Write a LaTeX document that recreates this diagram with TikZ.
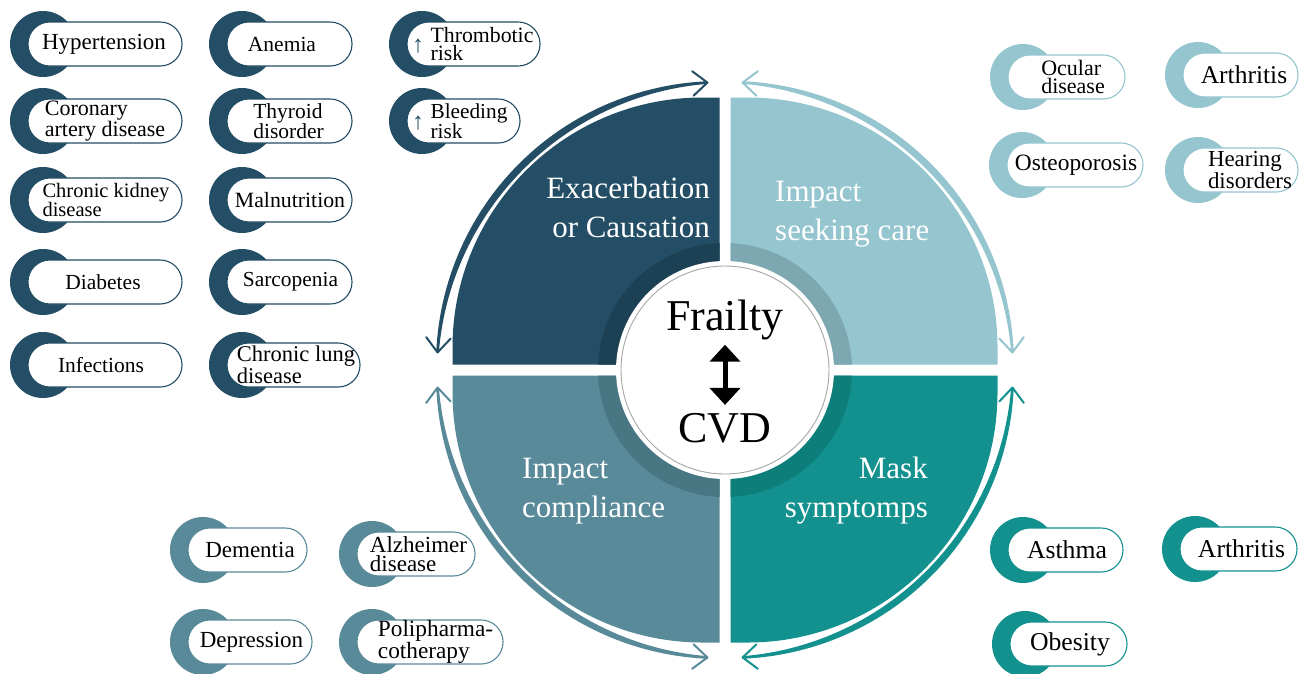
\documentclass[tikz,border=0pt]{standalone}
\usepackage{fontspec}
\setmainfont{Liberation Serif}
\usetikzlibrary{arrows.meta,calc}
\definecolor{c1}{HTML}{234E65}
\definecolor{c1b}{HTML}{1C4154}
\definecolor{c2}{HTML}{95C5CF}
\definecolor{c2b}{HTML}{7DA8B1}
\definecolor{c3}{HTML}{588A99}
\definecolor{c3b}{HTML}{497683}
\definecolor{c4}{HTML}{13918F}
\definecolor{c4b}{HTML}{0E7E7B}
\tikzset{
  pillbox/.style={rectangle, rounded corners=21.8pt, fill=white, line width=1.1pt, minimum height=44pt, inner sep=0pt},
  pilltext/.style={inner sep=0pt, align=left, text=black},
  quadtext/.style={inner sep=0pt, text=white, font=\fontsize{31}{39}\selectfont},
  hubtext/.style={inner sep=0pt, text=black, font=\fontsize{44}{48}\selectfont},
  uptext/.style={inner sep=0pt, text=c1, font=\fontsize{24}{24}\selectfont},
}
\newcommand{\mypill}[8]{%
  \fill[#2] ({#3+15},#5) circle[radius=33];
  \node[pillbox, draw=#2, minimum width={(#4-#3)*1pt}] (#1) at ({(#3+#4)/2},#5) {};
  \node[pilltext, font={\fontsize{#6}{18.5}\selectfont}] (#1t) at (#7,#5) {#8};
}
\begin{document}
\begin{tikzpicture}[x=1pt,y=-1pt]
\useasboundingbox (0,0) rectangle (1303,673);
\fill[white] (0,0) rectangle (1303,673);

% ---- centre ----
\begin{scope}[shift={(725,370)}, yscale=-1]
  \foreach \r/\c/\cb in {0/c1/c1b, 90/c2/c2b, 180/c4/c4b, -90/c3/c3b} {
    \fill[fill=\c, rotate=\r] (-5.5,5.5) -- (-5.5,272.5) -- (-22.5,272.5) arc[start angle=90, end angle=180, radius=250] -- (-272.5,5.5) -- cycle;
    \begin{scope}
      \clip[rotate=\r] (-5.5,5.5) -- (-5.5,272.5) -- (-22.5,272.5) arc[start angle=90, end angle=180, radius=250] -- (-272.5,5.5) -- cycle;
      \fill[fill=\cb] (0,0) circle[radius=127];
    \end{scope}
  }
  \node[circle, fill=white, minimum size=218pt, inner sep=0pt] (hub) at (0,0) {};
  \node[circle, draw=gray!70, line width=0.9pt, minimum size=208pt, inner sep=0pt] (hubring) at (0,0) {};
  \node[hubtext] (fr) at (0,50.5) {Frailty};
  \node[hubtext] (cvd) at (0,-58) {CVD};
  \draw[line width=5pt, shorten <=5pt, shorten >=8pt, {Triangle[length=17pt,width=30pt]}-{Triangle[length=17pt,width=30pt]}] (fr) -- (cvd);

  % ---- circular arrows ----
  \foreach \a/\c [evaluate=\a as \s using \a+3.5, evaluate=\a as \e using \a+86.5, evaluate=\a as \m using \a+45] in {90/c1, 0/c2, 180/c3, 270/c4} {
    \fill[fill=\c] plot[domain=\s:\e, samples=60] ({(289+2.5*cos(2*(\x-\m)))*cos(\x)}, {(289+2.5*cos(2*(\x-\m)))*sin(\x)})
      -- plot[domain=\e:\s, samples=60] ({(287-2.5*cos(2*(\x-\m)))*cos(\x)}, {(287-2.5*cos(2*(\x-\m)))*sin(\x)}) -- cycle;
    \draw[draw=\c, line width=2pt, line cap=round, line join=round] ($(\s:288)+(\s+130:19)$) -- (\s:288) -- ($(\s:288)+(\s+50:19)$);
    \draw[draw=\c, line width=2pt, line cap=round, line join=round] ($(\e:288)+(\e-50:19)$) -- (\e:288) -- ($(\e:288)+(\e-130:19)$);
  }
\end{scope}

% ---- quadrant labels ----
\node[quadtext, align=right, anchor=east] (q1) at (710,207) {Exacerbation\\or Causation};
\node[quadtext, align=left, anchor=west] (q2) at (775,214.5) {Impact\\seeking care};
\node[quadtext, align=left, anchor=west] (q3) at (522,491) {Impact\\compliance};
\node[quadtext, align=right, anchor=east] (q4) at (928,491) {Mask\\symptomps};

% ---- pills: dark ----
\mypill{hyp}{c1}{28}{182}{44}{23}{104}{Hypertension}
\mypill{cad}{c1}{28}{182}{121}{22}{105}{Coronary\\artery disease}
\mypill{ckd}{c1}{28}{182}{200}{20.5}{106}{Chronic kidney\\disease}
\mypill{dia}{c1}{28}{182}{282}{21.5}{103}{Diabetes}
\mypill{inf}{c1}{28}{182}{365}{21.5}{101}{Infections}
\mypill{ane}{c1}{227}{352}{44}{21.5}{282}{Anemia}
\mypill{thy}{c1}{227}{352}{121}{21.5}{288.5}{Thyroid\\disorder}
\mypill{mal}{c1}{227}{352}{200}{21.8}{290}{Malnutrition}
\mypill{sar}{c1}{227}{352}{282}{21.4}{290.5}{Sarcopenia}
\mypill{cld}{c1}{227}{360}{365}{22.5}{296}{Chronic lung\\disease}
\mypill{thr}{c1}{407}{540}{44}{21.8}{482}{Thrombotic\\risk}
\mypill{ble}{c1}{407}{520}{121}{21.3}{469}{Bleeding\\risk}
\node[uptext] (thrup) at (418,46) {↑};
\node[uptext] (bleup) at (418,123) {↑};

% ---- pills: light ----
\mypill{ocu}{c2}{1008}{1125}{77}{22}{1073}{Ocular\\disease}
\mypill{arta}{c2}{1183}{1298}{75}{25.5}{1244}{Arthritis}
\mypill{ost}{c2}{1007}{1143}{165}{23.4}{1076}{Osteoporosis}
\mypill{hea}{c2}{1183}{1298}{170}{22.9}{1250}{Hearing\\disorders}

% ---- pills: steel ----
\mypill{dem}{c3}{188}{307}{550}{23}{250}{Dementia}
\mypill{alz}{c3}{357}{475}{554}{23}{418.5}{Alzheimer\\disease}
\mypill{dep}{c3}{188}{312}{642}{23}{251.5}{Depression}
\mypill{pol}{c3}{357}{503}{642}{23.3}{435.5}{Polipharma-\\cotherapy}

% ---- pills: teal ----
\mypill{ast}{c4}{1008}{1123}{550}{25.7}{1067}{Asthma}
\mypill{artb}{c4}{1180}{1297}{549}{25.7}{1241.5}{Arthritis}
\mypill{obe}{c4}{1010}{1127}{644}{25.7}{1070}{Obesity}
\end{tikzpicture}
\end{document}
